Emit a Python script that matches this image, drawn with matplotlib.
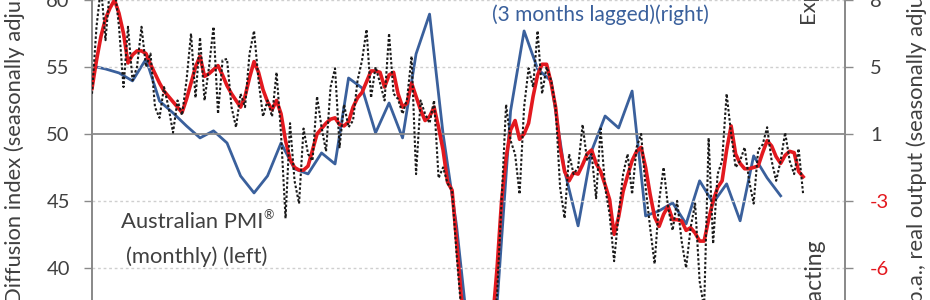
import numpy as np
import matplotlib
matplotlib.use("Agg")
import matplotlib.pyplot as plt
from matplotlib.ticker import FixedLocator, FormatStrFormatter

plt.rcParams['font.family'] = ['Lato', 'DejaVu Sans']

# Australian PMI, monthly (left axis)
pmi_monthly = [
    53.0, 58.0, 61.0, 57.0, 61.0, 61.0, 58.0, 53.5, 58.0, 54.0,
    55.0, 58.0, 55.0, 56.0, 52.0, 51.2, 53.5, 52.0, 50.1, 52.5,
    51.4, 54.0, 57.5, 52.7, 57.2, 52.5, 55.0, 58.0, 51.5, 55.5,
    55.6, 52.0, 50.5, 53.0, 52.0, 56.0, 57.7, 54.0, 51.3, 52.5,
    51.3, 54.6, 50.0, 43.7, 50.8, 46.5, 44.8, 50.4, 48.5, 48.0,
    52.8, 50.5, 48.7, 53.5, 54.9, 49.0, 52.2, 50.5, 51.0, 54.0,
    55.5, 57.8, 52.7, 55.0, 53.8, 52.5, 57.5, 53.0, 52.6, 51.5,
    52.6, 55.8, 47.0, 52.5, 51.5, 50.8, 52.5, 46.7, 47.5, 46.3,
    45.8, 41.0, 37.0, 33.0, 32.0, 30.0, 31.0, 30.5, 33.0, 35.0,
    38.0, 45.0, 52.2, 49.5, 48.5, 45.5, 52.0, 54.9, 53.5, 57.7,
    53.0, 55.0, 54.0, 52.0, 46.0, 43.7, 48.5, 47.0, 47.5, 50.7,
    48.0, 48.5, 45.2, 50.4, 46.0, 44.0, 40.5, 44.0, 47.0, 48.5,
    45.5, 49.0, 50.0, 46.0, 43.0, 40.3, 45.0, 47.5, 44.5, 42.8,
    45.0, 42.0, 40.0, 43.0, 44.8, 39.0, 37.0, 49.7, 41.8, 47.0,
    48.0, 53.0, 50.0, 47.5, 48.0, 49.0, 46.5, 44.8, 48.8, 49.2,
    50.5, 48.0, 46.5, 48.0, 50.1, 48.0, 47.0, 48.9, 45.5,
]

# Australian PMI, 3 month average (left axis)
pmi_3m_avg = [
    53.4, 55.5, 57.3, 58.6, 59.4, 60.0, 59.0, 57.5, 55.3, 55.9,
    56.2, 56.2, 56.0, 55.2, 54.5, 53.8, 53.2, 52.8, 52.4, 52.0,
    51.6, 52.6, 53.8, 55.0, 55.8, 54.3, 54.5, 54.8, 55.1, 54.4,
    53.6, 53.0, 52.5, 52.0, 52.8, 54.2, 55.4, 54.6, 53.3, 52.4,
    51.8, 52.5, 51.5, 49.5, 48.1, 47.5, 47.3, 47.3, 47.6, 48.8,
    50.0, 50.4, 50.8, 51.1, 51.2, 50.7, 50.6, 50.9, 52.0, 52.7,
    53.1, 53.9, 54.7, 54.7, 54.6, 53.5, 54.4, 54.6, 53.0, 52.0,
    52.3, 53.8, 52.8, 51.8, 51.0, 51.3, 52.0, 50.5, 48.8, 46.4,
    45.8, 42.0, 38.0, 35.0, 33.0, 31.5, 31.0, 32.0, 33.5, 36.0,
    40.0, 45.0, 48.2, 50.3, 51.0, 49.6, 50.0, 50.8, 52.8, 54.4,
    55.2, 55.2, 53.8, 52.0, 49.0, 47.2, 46.5, 47.1, 47.0, 47.7,
    48.5, 48.8, 47.8, 47.2, 46.2, 45.1, 42.5, 43.8, 45.7, 46.9,
    48.0, 48.7, 49.0, 47.5, 45.5, 43.8, 43.1, 44.0, 44.6, 43.6,
    43.6, 43.5, 42.8, 43.0, 42.6, 42.0, 42.0, 43.6, 45.0, 46.0,
    46.5, 48.8, 50.6, 48.5, 47.8, 47.4, 47.4, 47.5, 47.6, 48.6,
    49.5, 49.1, 48.3, 47.8, 48.4, 48.7, 48.6, 47.2, 46.8,
]

# Australian GDP growth, % p.a., quarterly, 3 months lagged (right axis)
gdp_quarterly = [
    4.75, 4.59, 4.37, 3.93, 5.14, 2.82, 2.16, 1.44, 0.78, 1.17,
    0.50, -1.32, -2.26, -1.32, 0.50, -0.93, -1.21, -0.05, -0.66, 4.09,
    3.54, 1.06, 2.71, 0.78, 5.42, 7.62, 1.00, -4.08, -11.0, -12.0,
    -8.4, 2.27, 6.69, 4.59, 3.93, -1.04, -4.08, 0.06, 1.99, 1.33,
    3.37, -3.53, -3.25, -2.81, -3.97, -1.59, -2.81, -1.76, -3.80, -0.21,
    -1.43, -2.42,
]

left_ticks = [40, 45, 50, 55, 60]

months = np.arange(len(pmi_monthly))
quarters = np.arange(len(gdp_quarterly)) * 3

text_grey = '#404040'
red = '#e3191f'
blue = '#3a609c'

fig = plt.figure(figsize=(9.3, 3.0), dpi=100)
ax = fig.add_axes([92 / 930, 0.0, (845 - 92) / 930, 1.0])
ax2 = ax.twinx()

# left axis 40..60 maps onto right axis with 1 at 50 and 3.7 per 5 points
ylo, yhi = 37.6, 60.0
ax.set_xlim(0, 167.3)
ax.set_ylim(ylo, yhi)
ax2.set_ylim(1 + (ylo - 50) * 0.74, 1 + (yhi - 50) * 0.74)

for v in left_ticks:
    if v == 50:
        ax.axhline(v, color='#8a8a8a', lw=1.3, zorder=1)
    else:
        ax.axhline(v, color='#cfcfcf', lw=1.0, ls=(0, (2, 2)), zorder=1)

ax2.plot(quarters, gdp_quarterly, color=blue, lw=2.0, zorder=2)
ax.plot(months, pmi_3m_avg, color=red, lw=2.6, zorder=3)
ax.plot(months, pmi_monthly, color='#1a1a1a', lw=1.5, ls=(0, (1.2, 1.0)), zorder=4)

ax.set_zorder(ax2.get_zorder() + 1)
ax.patch.set_visible(False)

ax.set_yticks(left_ticks)
ax.tick_params(axis='y', direction='out', length=6, width=1, color='#8a8a8a',
               labelsize=14.5, labelcolor=text_grey, pad=10)
ax.set_xticks([])

right_pos = [1 + (v - 50) * 0.74 for v in left_ticks]
ax2.yaxis.set_major_locator(FixedLocator(right_pos))
ax2.yaxis.set_major_formatter(FormatStrFormatter('%.0f'))
ax2.tick_params(axis='y', direction='out', length=6, width=1, color='#8a8a8a',
                labelsize=14.5, labelcolor=text_grey, pad=12)
for lab, v in zip(ax2.get_yticklabels(), right_pos):
    if v < 0:
        lab.set_color(red)

for a in (ax, ax2):
    for s in ('top', 'bottom'):
        a.spines[s].set_visible(False)
    a.spines['left'].set_color('#8a8a8a')
    a.spines['right'].set_color('#8a8a8a')
    a.spines['left'].set_linewidth(1.3)
    a.spines['right'].set_linewidth(1.3)

fig.text(15 / 930, -0.012, 'Diffusion index (seasonally adjusted)', rotation=90,
         ha='center', va='bottom', fontsize=15.8, color=text_grey)
fig.text(917 / 930, -0.085, '% p.a., real output (seasonally adjusted)', rotation=90,
         ha='center', va='bottom', fontsize=15.8, color=text_grey)
fig.text(808 / 930, 1 - 23 / 300, 'Expanding', rotation=90,
         ha='center', va='bottom', fontsize=15.8, color=text_grey)
fig.text(814 / 930, 1 - 238 / 300, 'Contracting', rotation=90,
         ha='center', va='top', fontsize=16.5, color=text_grey)

fig.text(192 / 930, 1 - 222 / 300, 'Australian PMI',
         ha='center', va='center', fontsize=15.8, color=text_grey)
fig.text(263 / 930, 1 - 215 / 300, '\u00ae',
         ha='left', va='center', fontsize=9, color=text_grey)
fig.text(197 / 930, 1 - 257 / 300, '(monthly) (left)',
         ha='center', va='center', fontsize=15.8, color=text_grey)
fig.text(600 / 930, 1 - 15 / 300, '(3 months lagged)(right)',
         ha='center', va='center', fontsize=15, color=blue)

fig.savefig('out.png', dpi=100)
